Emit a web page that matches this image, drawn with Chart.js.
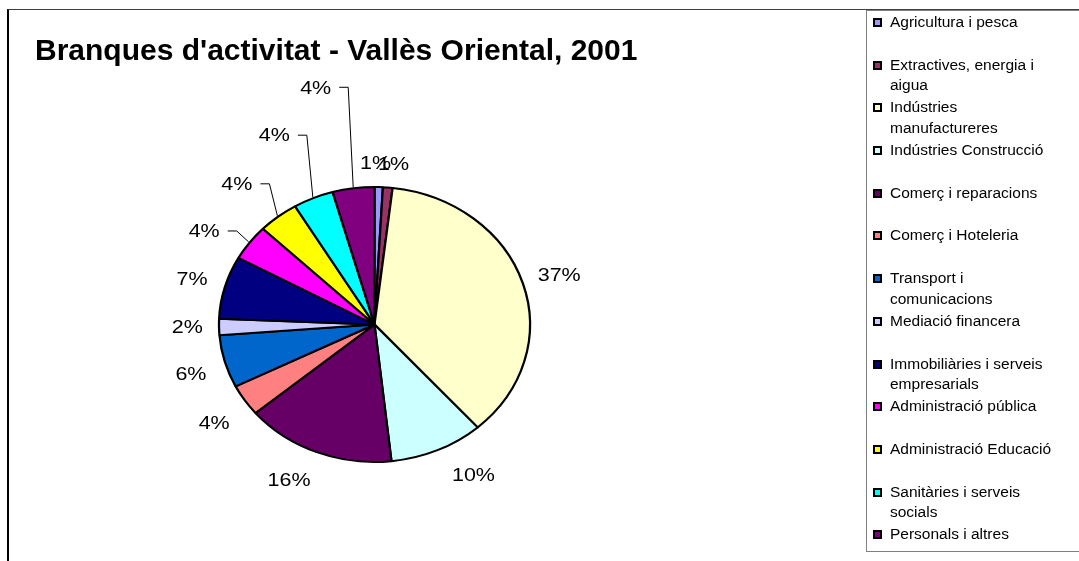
<!DOCTYPE html>
<html>
<head>
<meta charset="utf-8">
<script src="https://cdn.jsdelivr.net/npm/chart.js@4.4.0/dist/chart.umd.min.js"></script>
<style>
    html, body { margin: 0; padding: 0; background: #fff; }
    body { width: 1079px; height: 561px; position: relative; overflow: hidden; font-family: "Liberation Sans", Arial, sans-serif; color: #000; }
    #frame { position: absolute; left: 7px; top: 9px; width: 1200px; height: 700px; border-top: 1px solid #404040; border-left: 2px solid #000; }
    #title { position: absolute; left: 35px; top: 32px; font-size: 30px; font-weight: bold; line-height: 36px; white-space: nowrap; }
    #wrap { position: absolute; left: 0; top: 0; width: 1079px; height: 561px; }
    #legend { position: absolute; left: 866px; top: 10px; width: 260px; height: 542px; border: 1px solid #808080; background: #fff; box-sizing: border-box; padding-top: 1px; }
    .item { position: relative; height: 42.7px; padding-left: 23px; font-size: 15.5px; line-height: 20.5px; }
    .item span.txt { display: block; width: 170px; }
    .item i { position: absolute; left: 6px; top: 6px; width: 5px; height: 5px; border: 2px solid #000; }
</style>
</head>
<body>
<div id="frame"></div>
<div id="wrap"><canvas id="pieChart"></canvas></div>
<div id="title">Branques d'activitat - Vallès Oriental, 2001</div>
<div id="legend"></div>
<script>
// dades (percentatge de cada branca)
const categories = [
    "Agricultura i pesca",
    "Extractives,  energia i aigua",
    "Indústries manufactureres",
    "Indústries Construcció",
    "Comerç i reparacions",
    "Comerç i Hoteleria",
    "Transport i comunicacions",
    "Mediació financera",
    "Immobiliàries i serveis empresarials",
    "Administració pública",
    "Administració Educació",
    "Sanitàries i serveis socials",
    "Personals i altres"
];
const shares = [0.86, 1.0, 36.6, 9.8, 15.6, 3.7, 6.2, 1.9, 7.4, 4.2, 4.2, 4.2, 4.34];
const colors = ["#9999FF", "#993366", "#FFFFCC", "#CCFFFF", "#660066", "#FF8080", "#0066CC",
                "#CCCCFF", "#000080", "#FF00FF", "#FFFF00", "#00FFFF", "#800080"];

// l'excel està estirat en horitzontal
const STRETCH_X = 1.131;
const LABEL_FONT = '19px "Liberation Sans", Arial, sans-serif';
const LABEL_GAP = 13;
// petits ajustos de les etiquetes (px)
const labelNudge = [[-4, 0], [3, 0], [2, -2], [20, 3], [-13, 6], [-5, 10], [-5, 6], [-2, -1], [-4, -3], null, null, null, null];
// etiquetes desplaçades amb línia guia (desplaçament de la cantonada respecte a la vora)
const leaderOffset = [null, null, null, null, null, null, null, null, null, [-12, -11], [-8, -32], [-6, -62], [-5, -100]];

const total = shares.reduce((a, b) => a + b, 0);
const pctLabels = shares.map(v => Math.round(v / total * 100) + '%');

// legend html
const legendEl = document.getElementById('legend');
categories.forEach((name, i) => {
    const row = document.createElement('div');
    row.className = 'item';
    const box = document.createElement('i');
    box.style.background = colors[i];
    const txt = document.createElement('span');
    txt.className = 'txt';
    txt.textContent = name;
    row.appendChild(box);
    row.appendChild(txt);
    legendEl.appendChild(row);
});

const ellipsePlugin = {
    id: 'ellipse',
    beforeDatasetsDraw(chart) {
        const arc = chart.getDatasetMeta(0).data[0];
        const ctx = chart.ctx;
        ctx.save();
        ctx.translate(arc.x, arc.y);
        ctx.scale(STRETCH_X, 1);
        ctx.translate(-arc.x, -arc.y);
    },
    afterDatasetsDraw(chart) {
        chart.ctx.restore();
    }
};

// text estirat igual que el pastís
function stretchedText(ctx, text, x, y, align) {
    const w = ctx.measureText(text).width * STRETCH_X;
    let left = x;
    if (align === 'center') left = x - w / 2;
    if (align === 'right') left = x - w;
    ctx.save();
    ctx.translate(left, y);
    ctx.scale(STRETCH_X, 1);
    ctx.textAlign = 'left';
    ctx.fillText(text, 0, 0);
    ctx.restore();
}

const labelPlugin = {
    id: 'pctLabels',
    afterDraw(chart) {
        const ctx = chart.ctx;
        const arcs = chart.getDatasetMeta(0).data;
        ctx.save();
        ctx.font = LABEL_FONT;
        ctx.fillStyle = '#000';
        ctx.textBaseline = 'middle';
        arcs.forEach((arc, i) => {
            const mid = (arc.startAngle + arc.endAngle) / 2;
            const R = arc.outerRadius + 1;
            const px = arc.x + Math.cos(mid) * R * STRETCH_X;
            const py = arc.y + Math.sin(mid) * R;
            const text = pctLabels[i];
            const w = ctx.measureText(text).width * STRETCH_X;
            if (leaderOffset[i]) {
                const ax = px + leaderOffset[i][0];
                const ay = py + leaderOffset[i][1];
                ctx.strokeStyle = '#000';
                ctx.lineWidth = 1;
                ctx.beginPath();
                ctx.moveTo(px, py);
                ctx.lineTo(ax, ay);
                ctx.lineTo(ax - 9, ay);
                ctx.stroke();
                stretchedText(ctx, text, ax - 17, ay + 1, 'right');
                return;
            }
            let dx = px - arc.x, dy = py - arc.y;
            const len = Math.hypot(dx, dy);
            dx /= len; dy /= len;
            const n = labelNudge[i] || [0, 0];
            const cx = px + dx * LABEL_GAP + dx * w / 2 + n[0];
            const cy = py + dy * LABEL_GAP + dy * 10 + n[1];
            stretchedText(ctx, text, cx, cy + 1, 'center');
        });
        ctx.restore();
    }
};

new Chart(document.getElementById('pieChart'), {
    type: 'pie',
    data: {
        labels: categories,
        datasets: [{
            data: shares,
            backgroundColor: colors,
            borderColor: '#000',
            borderWidth: 2,
            borderAlign: 'center'
        }]
    },
    options: {
        responsive: true,
        maintainAspectRatio: false,
        animation: false,
        events: [],
        layout: {
            padding: { top: 186, bottom: 98, left: 236, right: 566 }
        },
        plugins: {
            legend: { display: false },
            tooltip: { enabled: false },
            title: { display: false }
        }
    },
    plugins: [ellipsePlugin, labelPlugin]
});
</script>
</body>
</html>
